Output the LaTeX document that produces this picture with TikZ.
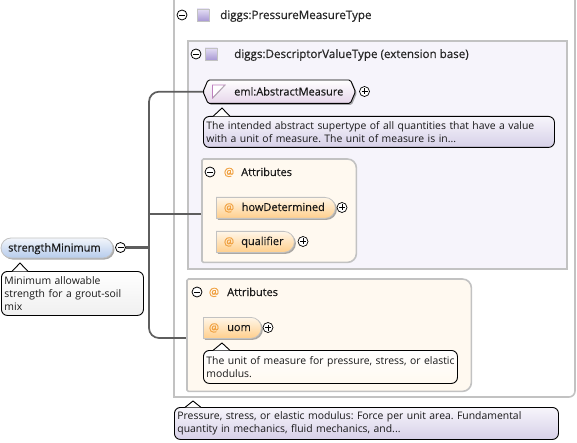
\documentclass[tikz,border=0pt]{standalone}
\usepackage{fontspec}
\setmainfont{Open Sans}
\newfontfamily\lblfont[FakeBold=0.35]{Open Sans}
\usetikzlibrary{shapes.misc,shadows,calc}
\definecolor{linegray}{HTML}{5E5E5E}
\definecolor{boxgray}{HTML}{C2C2C2}
\definecolor{lavbg}{HTML}{F6F4FB}
\definecolor{creambg}{HTML}{FFF9F0}
\definecolor{orangeat}{HTML}{F0A040}
\definecolor{FFF6E8}{HTML}{FFF6E8}
\definecolor{FFCF8C}{HTML}{FFCF8C}
\definecolor{F2F5FB}{HTML}{F2F5FB}
\definecolor{B6CCEC}{HTML}{B6CCEC}
\definecolor{E6D6EA}{HTML}{E6D6EA}
\definecolor{F7F5FB}{HTML}{F7F5FB}
\definecolor{D6D0E8}{HTML}{D6D0E8}
\definecolor{E4DEF4}{HTML}{E4DEF4}
\definecolor{A898D4}{HTML}{A898D4}
\tikzset{
  x=1pt,y=-1pt,
  txt/.style={font=\frenchspacing\fontsize{10.4}{13}\selectfont,text=black!90,inner sep=0pt},
  lbl/.style={font=\lblfont\fontsize{11}{13}\selectfont,text=black!90,inner sep=0pt,anchor=base west},
  hdr/.style={font=\lblfont\fontsize{11.6}{13}\selectfont,text=black!85,inner sep=0pt,anchor=base west},
  atsign/.style={font=\lblfont\fontsize{11.5}{13}\selectfont,text=orangeat,inner sep=0pt,anchor=base},
  pillshadow/.style={drop shadow={shadow xshift=1.5pt,shadow yshift=-1.5pt,opacity=.55,fill=black!60}},
  attpill/.style={rounded rectangle,rounded rectangle west arc=none,draw=boxgray,line width=.8pt,top color=FFF6E8,bottom color=FFCF8C,inner sep=0pt,pillshadow,anchor=north west},
  elempill/.style={rounded rectangle,draw=boxgray,line width=.8pt,top color=F2F5FB,bottom color=B6CCEC,inner sep=0pt,pillshadow,anchor=center},
  amshape/.style={draw=black,line width=.9pt,top color=white,bottom color=E6D6EA,rounded corners=1.5pt,pillshadow},
  notebox/.style={draw=black,line width=.9pt,rounded corners=6pt,inner xsep=3pt,inner ysep=0pt,align=left,anchor=north west,txt},
  notew/.style={text width=#1-6pt,minimum width=#1},
  notelav/.style={notebox,top color=F7F5FB,bottom color=D6D0E8},
  notecream/.style={notebox,top color=white,bottom color=creambg},
  notewhite/.style={notebox,top color=white,bottom color=black!6},
  tailfill/.style={draw=black,line width=.9pt,fill=white},
  minusc/.style={circle,draw=black,line width=.8pt,fill=white,minimum size=10pt,inner sep=0pt,path picture={\draw[line width=.8pt] ($(path picture bounding box.center)+(-3,0)$) -- ($(path picture bounding box.center)+(3,0)$);}},
  plusc/.style={circle,draw=black,line width=.7pt,fill=white,minimum size=10pt,inner sep=0pt,path picture={\draw[line width=.6pt] ($(path picture bounding box.center)+(-3,0)$) -- ($(path picture bounding box.center)+(3,0)$) ($(path picture bounding box.center)+(0,-3)$) -- ($(path picture bounding box.center)+(0,3)$);}},
  typeicon/.style={rectangle,draw=boxgray,line width=.6pt,top color=E4DEF4,bottom color=A898D4,minimum size=12pt,inner sep=0pt},
  container/.style={inner sep=0pt,anchor=north west},
  conn/.style={draw=linegray,line width=1.7pt,rounded corners=10pt},
  stem/.style={draw=linegray,line width=2.6pt},
  boxline/.style={draw=boxgray,line width=1.6pt},
}
\begin{document}
\begin{tikzpicture}
\useasboundingbox (0,0) rectangle (577,443);

% outer type box
\coordinate (outL) at (174,0);
\coordinate (outB) at (174,397);
\coordinate (outR) at (575,0);
\draw[boxline,fill=white] (outL) -- (outB) [rounded corners=6pt] -- (outB -| outR) [sharp corners] -- (outR);

% descriptor box
\node[container,fill=lavbg,draw=boxgray,line width=1.6pt,minimum width=379pt,minimum height=228pt] (desc) at (187,40) {};

% nodes that the connectors reach
\node[elempill,minimum width=112pt,minimum height=20pt] (sm) at (57,248) {};
\node[minusc] (smc) at (120.5,247.5) {};
\node[container,minimum width=152pt,minimum height=23pt] (am) at (203,80) {};
\coordinate (tk) at (149,247.5);
\coordinate (bA) at (202,214);
\coordinate (bB) at (187,338);

% connectors
\draw[stem] (smc.east) -- (tk);
\draw[conn,rounded corners=0pt] (bA) -- (bA -| tk);
\draw[conn] (am.west) -| (tk) |- (bB);

% header
\node[minusc] (c1) at (182,15) {};
\node[typeicon] (i1) at (203,15) {};
\node[hdr] (t1) at (220,19) {diggs:PressureMeasureType};
\shade[left color=white,middle color=boxgray!80,right color=white] (178,28) rectangle (480,30);

\node[minusc] (c2) at (196,54) {};
\node[typeicon] (i2) at (211,54) {};
\node[hdr] (t2) at (234,58) {diggs:DescriptorValueType (extension base)};
\shade[left color=lavbg,middle color=boxgray!70,right color=lavbg] (190,68) rectangle (475,70);

% abstract measure
\draw[amshape] (am.west) -- ($(am.north west)+(5,0)$) -- ($(am.north east)+(-5,0)$) -- (am.east) -- ($(am.south east)+(-5,0)$) -- ($(am.south west)+(5,0)$) -- cycle;
\node[lbl] (amt) at (234,95.5) {eml:AbstractMeasure};
\draw[violet!50,line width=.8pt,fill=white] (225,85) -- (212.5,85) -- (212.5,98) -- cycle;
\draw[black!30,line width=.8pt] (225,85) -- (213,98);
\node[plusc] (amp) at (364.5,91.5) {};

% note 1
\node[notelav,notew=351pt,minimum height=31pt] (n1) at (203,116) {The intended abstract supertype of all quantities that have a value\\with a unit of measure. The unit of measure is in...};
\draw[tailfill] ($(n1.north west)+(10,0.4)$) -- ($(n1.north west)+(19,-8)$) -- ($(n1.north west)+(27,0.4)$);

% attributes A
\node[container,minimum width=154pt,minimum height=103pt] (aa) at (202,159) {};
\draw[boxline,fill=creambg] (aa.north west) [rounded corners=9pt] -- (aa.north east) -- (aa.south east) [rounded corners=1.5pt] -- (aa.south west) -- cycle;
\node[minusc] (c3) at (210,172) {};
\node[atsign] (at3) at (229,176) {@};
\node[lbl] (t3) at (241,176) {Attributes};
\shade[left color=creambg,middle color=boxgray!70,right color=creambg] (206,185) rectangle (320,187);

\node[attpill,minimum width=119pt,minimum height=21pt] (hd) at (216,197) {};
\node[atsign] (at4) at (229,211.5) {@};
\node[lbl] (t4) at (241.5,211) {howDetermined};
\node[plusc] (hdp) at (342,207.5) {};

\node[attpill,minimum width=78pt,minimum height=21pt] (ql) at (216,231) {};
\node[atsign] (at5) at (229,245.5) {@};
\node[lbl] (t5) at (241,245) {qualifier};
\node[plusc] (qlp) at (303,241.5) {};

% attributes B
\node[container,minimum width=284pt,minimum height=112pt] (ab) at (187,279) {};
\draw[boxline,fill=creambg] (ab.north west) [rounded corners=9pt] -- (ab.north east) -- (ab.south east) [rounded corners=1.5pt] -- (ab.south west) -- cycle;
\node[minusc] (c6) at (197,292) {};
\node[atsign] (at6) at (214,296) {@};
\node[lbl] (t6) at (227,296) {Attributes};
\shade[left color=creambg,middle color=boxgray!70,right color=creambg] (192,305) rectangle (405,307);

\node[attpill,minimum width=58pt,minimum height=21pt] (um) at (203,317) {};
\node[atsign] (at7) at (214,331.5) {@};
\node[lbl] (t7) at (227,331) {uom};
\node[plusc] (ump) at (268,327.5) {};

\node[notecream,notew=254pt,minimum height=33pt] (n2) at (203,350) {\mbox{The unit of measure for pressure, stress, or elastic}\\modulus.};
\draw[tailfill] ($(n2.north west)+(10,0.4)$) -- ($(n2.north west)+(19,-7)$) -- ($(n2.north west)+(27,0.4)$);

% bottom note
\node[notelav,notew=384pt,minimum height=32pt] (n3) at (174,407) {Pressure, stress, or elastic modulus: Force per unit area. Fundamental\\quantity in mechanics, fluid mechanics, and...};
\draw[tailfill] ($(n3.north west)+(11,0.4)$) -- ($(n3.north west)+(19,-6)$) -- ($(n3.north west)+(27,0.4)$);

% element
\node[lbl] (smt) at (8,251.5) {strengthMinimum};
\node[notewhite,notew=142pt,minimum height=44pt] (n4) at (1,271) {Minimum allowable\\strength for a grout-soil\\mix};
\draw[tailfill] ($(n4.north west)+(11,0.4)$) -- ($(n4.north west)+(19,-8)$) -- ($(n4.north west)+(27,0.4)$);
\end{tikzpicture}
\end{document}
